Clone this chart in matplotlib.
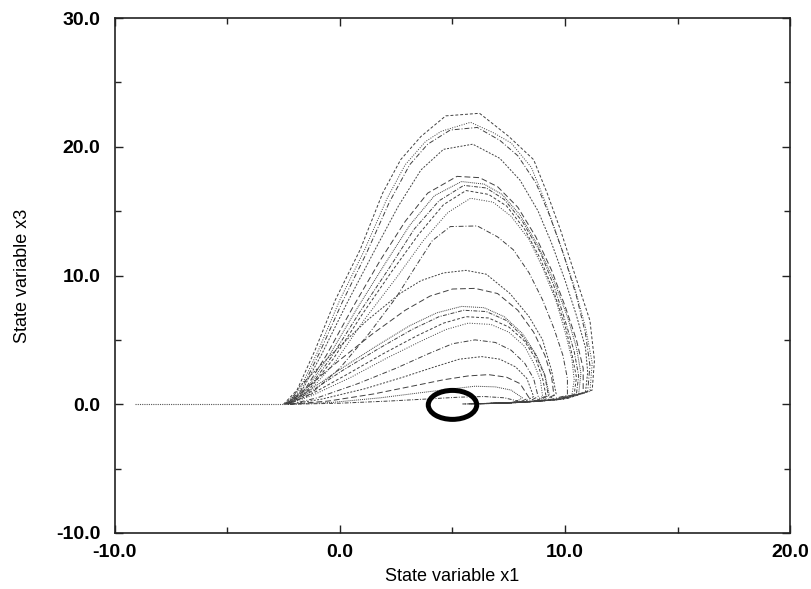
import matplotlib
matplotlib.use("Agg")
import matplotlib.pyplot as plt
from matplotlib.patches import Ellipse

# ---- data ----
approach_x1 = [-9.1, -6.5, -4.5, -2.4]
approach_x3 = [0.0, 0.0, 0.0, 0.0]

c01_x1 = [-2.5, -1.9, -1.1, -0.2, 0.9, 1.9, 2.7, 3.6, 4.7, 6.2, 7.5, 8.6, 9.2, 9.8, 10.5, 11.1, 11.3, 11.2, 10.1, 8.6, 7.0]
c01_x3 = [0.0, 1.1, 4.2, 8.1, 12.0, 16.4, 19.0, 20.8, 22.4, 22.6, 20.8, 19.0, 16.4, 13.5, 9.7, 6.5, 3.4, 1.1, 0.45, 0.2, 0.08]
c02_x1 = [-2.45, -1.8, -0.95, 0.0, 1.1, 2.1, 2.9, 3.8, 4.5, 5.8, 6.8, 7.6, 8.5, 9.1, 9.7, 10.4, 10.9, 11.2, 11.1, 10.0, 8.5, 7.0]
c02_x3 = [0.0, 1.1, 4.2, 8.1, 12.0, 16.0, 18.6, 20.4, 21.2, 21.9, 21.1, 20.3, 18.4, 15.8, 12.8, 9.2, 6.0, 3.2, 1.0, 0.42, 0.2, 0.08]
c03_x1 = [-2.45, -1.75, -0.9, 0.1, 1.2, 2.2, 3.1, 3.9, 4.9, 6.1, 7.1, 7.9, 8.7, 9.3, 9.9, 10.5, 10.9, 11.1, 11.0, 9.9, 8.4, 6.9]
c03_x3 = [0.0, 1.0, 4.0, 7.9, 11.8, 15.7, 18.6, 20.2, 21.3, 21.5, 20.5, 19.3, 17.2, 14.7, 11.8, 8.4, 5.5, 3.0, 1.0, 0.4, 0.2, 0.08]
c04_x1 = [-2.4, -1.7, -0.8, 0.3, 1.5, 2.6, 3.6, 4.6, 5.9, 7.1, 8.0, 8.8, 9.4, 10.0, 10.5, 10.9, 11.0, 10.9, 9.8, 8.3, 6.9]
c04_x3 = [0.0, 1.0, 3.9, 7.8, 11.8, 15.4, 18.2, 19.8, 20.2, 19.1, 17.4, 15.0, 12.5, 9.6, 6.9, 4.4, 2.5, 0.9, 0.38, 0.18, 0.07]
c05_x1 = [-2.4, -1.6, -0.6, 0.6, 1.8, 2.9, 3.9, 5.2, 6.2, 7.0, 7.9, 8.7, 9.4, 10.0, 10.5, 10.8, 10.8, 9.7, 8.2, 6.8]
c05_x3 = [0.0, 1.0, 3.8, 7.6, 11.2, 14.2, 16.4, 17.7, 17.6, 16.9, 15.3, 13.0, 10.4, 7.6, 5.0, 2.8, 0.9, 0.36, 0.17, 0.07]
c06_x1 = [-2.4, -1.55, -0.5, 0.75, 2.0, 3.1, 4.2, 5.4, 6.4, 7.2, 8.0, 8.8, 9.5, 10.1, 10.5, 10.7, 10.6, 9.6, 8.1, 6.7]
c06_x3 = [0.0, 1.0, 3.7, 7.4, 10.9, 13.9, 16.2, 17.3, 17.1, 16.3, 14.7, 12.3, 9.6, 6.8, 4.4, 2.4, 0.8, 0.34, 0.16, 0.06]
c07_x1 = [-2.35, -1.5, -0.4, 0.9, 2.2, 3.3, 4.4, 5.5, 6.5, 7.3, 8.1, 8.9, 9.5, 10.0, 10.4, 10.6, 10.5, 9.5, 8.0, 6.6]
c07_x3 = [0.0, 0.95, 3.6, 7.2, 10.6, 13.6, 15.8, 17.0, 16.8, 15.9, 14.2, 11.8, 9.2, 6.5, 4.1, 2.2, 0.8, 0.33, 0.15, 0.06]
c08_x1 = [-2.35, -1.45, -0.3, 1.0, 2.3, 3.5, 4.6, 5.6, 6.6, 7.4, 8.2, 8.9, 9.5, 10.0, 10.3, 10.5, 10.4, 9.4, 7.9, 6.5]
c08_x3 = [0.0, 0.95, 3.5, 7.0, 10.3, 13.2, 15.5, 16.6, 16.3, 15.4, 13.6, 11.3, 8.7, 6.1, 3.9, 2.1, 0.75, 0.32, 0.15, 0.06]
c09_x1 = [-2.3, -1.4, -0.2, 1.1, 2.5, 3.7, 4.8, 5.8, 6.8, 7.6, 8.4, 9.0, 9.6, 10.0, 10.3, 10.4, 10.3, 9.3, 7.8, 6.4]
c09_x3 = [0.0, 0.9, 3.3, 6.6, 9.8, 12.7, 14.9, 16.0, 15.7, 14.6, 12.8, 10.6, 8.0, 5.6, 3.5, 1.9, 0.7, 0.3, 0.14, 0.05]
c10_x1 = [-2.3, -1.3, 0.0, 1.3, 2.5, 3.4, 4.1, 4.9, 6.1, 7.0, 7.7, 8.4, 9.0, 9.5, 9.9, 10.1, 10.1, 9.2, 7.7, 6.3]
c10_x3 = [0.0, 0.8, 2.8, 5.5, 8.3, 10.8, 12.7, 13.8, 13.85, 13.0, 12.0, 10.2, 8.1, 5.9, 3.8, 2.0, 0.7, 0.3, 0.13, 0.05]
c11_x1 = [-2.3, -1.77, -0.3, 1.2, 2.67, 3.6, 4.6, 5.6, 6.5, 7.55, 8.4, 9.0, 9.4, 9.6, 9.2, 7.8, 6.3]
c11_x3 = [0.0, 1.4, 4.0, 6.5, 8.6, 9.6, 10.2, 10.4, 10.1, 8.6, 6.8, 5.0, 2.6, 0.8, 0.3, 0.12, 0.05]
c12_x1 = [-2.3, -1.6, -0.1, 1.4, 2.9, 4.0, 5.0, 6.0, 7.0, 7.9, 8.6, 9.1, 9.4, 9.5, 9.0, 7.7, 6.2]
c12_x3 = [0.0, 1.1, 3.3, 5.4, 7.3, 8.4, 8.95, 9.0, 8.6, 7.3, 5.6, 3.8, 2.1, 0.7, 0.28, 0.11, 0.04]
c13_x1 = [-2.3, -1.5, 0.0, 1.6, 3.1, 4.3, 5.4, 6.4, 7.3, 8.1, 8.7, 9.1, 9.3, 8.9, 7.6, 6.2]
c13_x3 = [0.0, 0.9, 2.7, 4.5, 6.1, 7.1, 7.6, 7.5, 6.8, 5.5, 3.9, 2.3, 0.7, 0.27, 0.1, 0.04]
c14_x1 = [-2.3, -1.4, 0.1, 1.7, 3.2, 4.4, 5.5, 6.5, 7.4, 8.1, 8.7, 9.1, 9.25, 8.8, 7.5, 6.1]
c14_x3 = [0.0, 0.85, 2.6, 4.3, 5.8, 6.8, 7.3, 7.2, 6.5, 5.3, 3.8, 2.2, 0.7, 0.26, 0.1, 0.04]
c15_x1 = [-2.3, -1.3, 0.3, 1.9, 3.4, 4.6, 5.6, 6.6, 7.5, 8.2, 8.7, 9.0, 9.15, 8.7, 7.4, 6.0]
c15_x3 = [0.0, 0.75, 2.3, 3.9, 5.3, 6.3, 6.8, 6.7, 6.0, 4.9, 3.5, 2.0, 0.65, 0.25, 0.1, 0.04]
c16_x1 = [-2.3, -1.2, 0.5, 2.1, 3.6, 4.7, 5.7, 6.7, 7.5, 8.2, 8.6, 8.9, 9.0, 8.6, 7.3, 5.9]
c16_x3 = [0.0, 0.7, 2.1, 3.6, 4.9, 5.8, 6.3, 6.2, 5.6, 4.5, 3.2, 1.9, 0.6, 0.24, 0.1, 0.04]
c17_x1 = [-2.2, -1.0, 0.8, 2.5, 3.9, 5.0, 6.0, 6.9, 7.6, 8.2, 8.6, 8.8, 8.4, 7.2, 5.8]
c17_x3 = [0.0, 0.5, 1.6, 2.8, 3.9, 4.7, 5.0, 4.8, 4.2, 3.2, 2.0, 0.6, 0.22, 0.09, 0.03]
c18_x1 = [-2.2, -0.8, 1.1, 2.8, 4.2, 5.3, 6.3, 7.1, 7.8, 8.3, 8.6, 8.2, 7.0, 5.7]
c18_x3 = [0.0, 0.4, 1.2, 2.1, 2.9, 3.5, 3.7, 3.5, 2.9, 2.0, 0.6, 0.2, 0.08, 0.03]
c19_x1 = [-2.2, -0.5, 1.5, 3.2, 4.6, 5.7, 6.6, 7.4, 8.0, 8.4, 8.0, 6.9, 5.6]
c19_x3 = [0.0, 0.25, 0.8, 1.4, 1.9, 2.2, 2.3, 2.1, 1.6, 0.5, 0.18, 0.07, 0.03]
c20_x1 = [-2.2, -0.3, 1.8, 3.6, 5.0, 6.0, 6.9, 7.6, 8.1, 7.8, 6.8, 5.5]
c20_x3 = [0.0, 0.15, 0.5, 0.9, 1.2, 1.4, 1.35, 1.1, 0.5, 0.16, 0.06, 0.02]
c21_x1 = [-2.2, 0.0, 2.2, 4.0, 5.3, 6.4, 7.3, 7.9, 7.6, 6.6, 5.4]
c21_x3 = [0.0, 0.08, 0.25, 0.42, 0.55, 0.6, 0.5, 0.25, 0.12, 0.05, 0.02]

curves = [
    (c01_x1, c01_x3), (c02_x1, c02_x3), (c03_x1, c03_x3), (c04_x1, c04_x3),
    (c05_x1, c05_x3), (c06_x1, c06_x3), (c07_x1, c07_x3), (c08_x1, c08_x3),
    (c09_x1, c09_x3), (c10_x1, c10_x3), (c11_x1, c11_x3), (c12_x1, c12_x3),
    (c13_x1, c13_x3), (c14_x1, c14_x3), (c15_x1, c15_x3), (c16_x1, c16_x3),
    (c17_x1, c17_x3), (c18_x1, c18_x3), (c19_x1, c19_x3), (c20_x1, c20_x3),
    (c21_x1, c21_x3),
]

equilibrium = (5.0, -0.05)
x_ticks = [-10, 0, 10, 20]
x_ticklabels = ["-10.0", "0.0", "10.0", "20.0"]
y_ticks = [-10, 0, 10, 20, 30]
y_ticklabels = ["-10.0", "0.0", "10.0", "20.0", "30.0"]

# ---- figure ----
fig = plt.figure(figsize=(8.11, 5.89), dpi=100)
ax = fig.add_axes([0.1412, 0.0951, 0.8335, 0.8743])

dash_styles = [(0, (3, 2)), (0, (1, 1.5)), (0, (5, 2, 1, 2)), (0, (2, 1.5)),
               (0, (6, 3)), (0, (1, 1)), (0, (4, 1.5, 1, 1.5))]

ax.plot(approach_x1, approach_x3, color="#555555", lw=0.8, ls=(0, (1, 1)))
for i, (xs, ys) in enumerate(curves):
    ax.plot(xs, ys, color="#404040", lw=0.7, ls=dash_styles[i % len(dash_styles)])

ax.add_patch(Ellipse(equilibrium, width=2.15, height=2.25, fill=False,
                     edgecolor="black", lw=3.6, zorder=5))

ax.set_xlim(-10, 20)
ax.set_ylim(-10, 30)
ax.set_xticks(x_ticks)
ax.set_xticklabels(x_ticklabels)
ax.set_yticks(y_ticks)
ax.set_yticklabels(y_ticklabels)
ax.set_xticks([-5, 5, 15], minor=True)
ax.set_yticks([-5, 5, 15, 25], minor=True)

ax.tick_params(which="both", direction="in", top=True, right=True, width=1.0, color="#222222")
ax.tick_params(which="major", length=6)
ax.tick_params(which="minor", length=4)
ax.tick_params(axis="y", which="major", pad=10)
ax.tick_params(axis="x", which="major", pad=8)
for lab in ax.get_xticklabels() + ax.get_yticklabels():
    lab.set_fontfamily("Liberation Sans")
    lab.set_fontweight("bold")
    lab.set_fontsize(14)

for s in ax.spines.values():
    s.set_linewidth(1.2)
    s.set_color("#222222")

ax.set_xlabel("State variable x1", fontfamily="Liberation Sans", fontsize=13, labelpad=5)
ax.set_ylabel("State variable x3", fontfamily="Liberation Sans", fontsize=13, labelpad=18)

fig.savefig("out.png", dpi=100)
